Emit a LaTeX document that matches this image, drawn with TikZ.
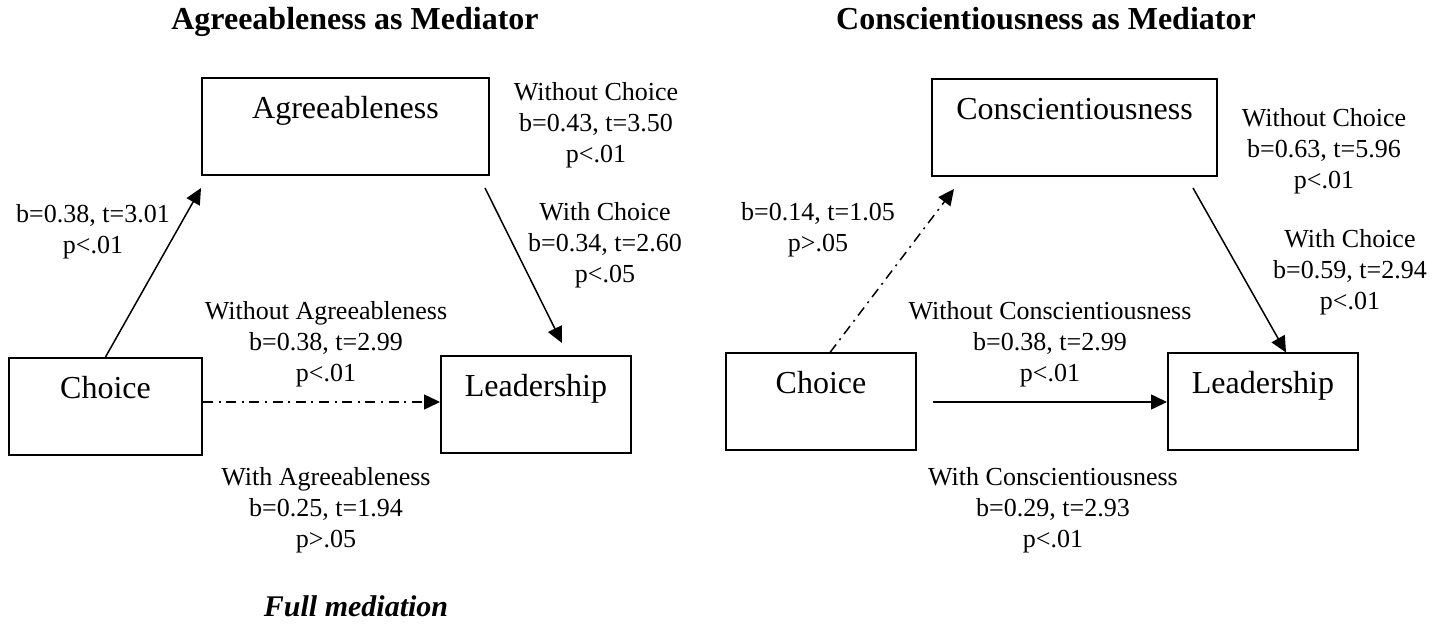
\documentclass[tikz,border=0pt]{standalone}
\usepackage{fontspec}
\setmainfont{Liberation Serif}
\usetikzlibrary{arrows.meta}

\tikzset{
    box/.style={draw, line width=1pt, inner sep=0pt, minimum height=48.5pt,
        font=\fontsize{16}{19}\selectfont, text height=11pt, text depth=19pt},
    coef/.style={font=\fontsize{13}{15.5}\selectfont, align=center, anchor=north, inner sep=0pt},
    heading/.style={font=\fontsize{16}{19}\selectfont\bfseries, anchor=base, inner sep=0pt},
    effect/.style={line width=0.75pt, -{Triangle[length=8pt, width=7.5pt]}},
    dashdotline/.style={effect, dash pattern=on 5pt off 2.8pt on 1pt off 2.8pt}
}

\begin{document}
\begin{tikzpicture}[x=0.5pt, y=-0.5pt]
        \useasboundingbox (0,0) rectangle (1455,624);

        \node[heading] (titleA) at (355,30)  {Agreeableness as Mediator};
        \node[heading] (titleC) at (1046,30) {Conscientiousness as Mediator};

        \node[box, minimum width=143.5pt] (agree)   at (345.5,126.5) {Agreeableness};
        \node[box, minimum width=96.5pt]  (choiceA) at (105.5,406.5) {Choice};
        \node[box, minimum width=95pt]    (leadA)   at (536,404.5)   {Leadership};

        \node[box, minimum width=142.5pt] (consc)   at (1074.5,127.5) {Conscientiousness};
        \node[box, minimum width=95pt]    (choiceC) at (821,402)      {Choice};
        \node[box, minimum width=95pt]    (leadC)   at (1263,402)     {Leadership};

        \node[coef] (aA)  at (93,204)  {b=0.38, t=3.01\\p<.01};
        \node[coef] (bA0) at (596,82)  {Without Choice\\b=0.43, t=3.50\\p<.01};
        \node[coef] (bA1) at (605,202) {With Choice\\b=0.34, t=2.60\\p<.05};
        \node[coef] (cA0) at (326,301) {Without Agreeableness\\b=0.38, t=2.99\\p<.01};
        \node[coef] (cA1) at (326,467) {With Agreeableness\\b=0.25, t=1.94\\p>.05};

        \node[coef] (aC)  at (818,202)  {b=0.14, t=1.05\\p>.05};
        \node[coef] (bC0) at (1324,108) {Without Choice\\b=0.63, t=5.96\\p<.01};
        \node[coef] (bC1) at (1350,229) {With Choice\\b=0.59, t=2.94\\p<.01};
        \node[coef] (cC0) at (1050,301) {Without Conscientiousness\\b=0.38, t=2.99\\p<.01};
        \node[coef] (cC1) at (1053,467) {With Conscientiousness\\b=0.29, t=2.93\\p<.01};

        \node[font=\fontsize{15}{18}\selectfont\bfseries\itshape, anchor=base] (full) at (356,616) {Full mediation};

        \draw[effect] (choiceA.north) -- ([yshift=-6pt]agree.south west);
        \draw[effect] ([xshift=-2.5pt, yshift=-6pt]agree.south east) -- ([xshift=13pt, yshift=6pt]leadA.north);
        \draw[dashdotline] ([yshift=2.25pt]choiceA.east) -- ([yshift=1.25pt]leadA.west);

        \draw[dashdotline] ([xshift=4.5pt]choiceC.north) -- ([xshift=11.5pt, yshift=-6pt]consc.south west);
        \draw[effect] ([xshift=-12.5pt, yshift=-5.5pt]consc.south east) -- ([xshift=11.5pt]leadC.north);
        \draw[effect] ([xshift=8pt]choiceC.east) -- (leadC.west);
    \end{tikzpicture}
\end{document}
